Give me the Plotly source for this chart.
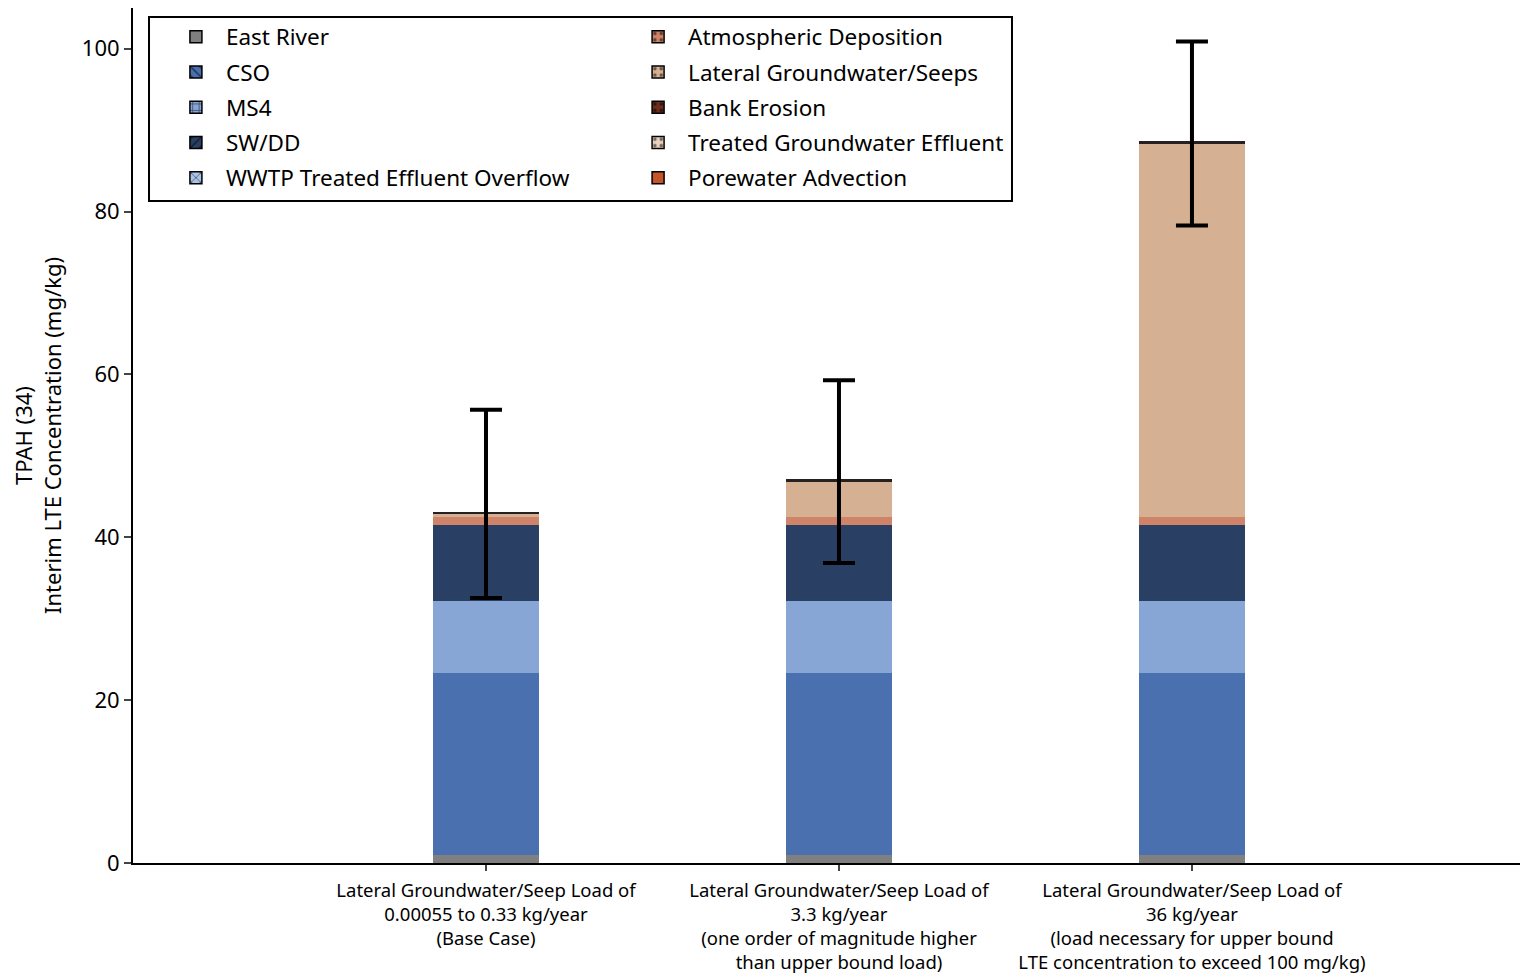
import plotly.graph_objects as go

categories = [
    "Lateral Groundwater/Seep Load of<br>0.00055 to 0.33 kg/year<br>(Base Case)",
    "Lateral Groundwater/Seep Load of<br>3.3 kg/year<br>(one order of magnitude higher<br>than upper bound load)",
    "Lateral Groundwater/Seep Load of<br>36 kg/year<br>(load necessary for upper bound<br>LTE concentration to exceed 100 mg/kg)",
]

sources = ["East River", "CSO", "MS4", "SW/DD", "WWTP Treated Effluent Overflow",
           "Atmospheric Deposition", "Lateral Groundwater/Seeps", "Bank Erosion",
           "Treated Groundwater Effluent", "Porewater Advection"]

east_river = [0.98, 0.98, 0.98]
cso = [22.36, 22.36, 22.36]
ms4 = [8.85, 8.85, 8.85]
sw_dd = [9.33, 9.33, 9.33]
wwtp = [0.0, 0.0, 0.0]
atmospheric = [0.92, 0.92, 0.92]
lateral_gw = [0.46, 4.45, 45.95]
bank_erosion = [0.22, 0.22, 0.22]
treated_gw = [0.0, 0.0, 0.0]
porewater = [0.0, 0.0, 0.0]

err_upper = [55.65, 59.3, 100.9]
err_lower = [32.55, 36.85, 78.3]

series = [east_river, cso, ms4, sw_dd, wwtp, atmospheric, lateral_gw, bank_erosion, treated_gw, porewater]
bar_colors = ["#808080", "#4a70b0", "#87a5d5", "#2a3f64", "#a9c2e6",
              "#cf8469", "#d6b092", "#262120", "#ead2c0", "#c4552b"]
legend_colors = ["#808080", "#4a70b0", "#87a5d5", "#2a3f64", "#a9c2e6",
                 "#cf8469", "#d6b092", "#6b2d1c", "#ead2c0", "#c4552b"]
patterns = ["", "\\", "+", "/", "x", ".", ".", ".", ".", ""]
legend_ids = ["legend", "legend", "legend", "legend", "legend",
              "legend2", "legend2", "legend2", "legend2", "legend2"]

fig = go.Figure()
for name, vals, col in zip(sources, series, bar_colors):
    fig.add_trace(go.Bar(x=categories, y=vals, name=name, marker_color=col,
                         marker_line_width=0, width=0.3, showlegend=False))

# legend swatches
for i, (name, col, pat, lg) in enumerate(zip(sources, legend_colors, patterns, legend_ids)):
    fig.add_trace(go.Bar(x=[None], y=[None], name=name, legend=lg, legendgroup=f"g{i}",
                         marker=dict(color=col, line=dict(color="black", width=1.5),
                                     pattern=dict(shape=pat, fgcolor="black", size=8, solidity=0.25)),
                         showlegend=True))

totals = [sum(s[i] for s in series) for i in range(len(categories))]
fig.add_trace(go.Scatter(
    x=categories, y=totals, mode="markers", marker=dict(size=0.1, color="black", opacity=0),
    showlegend=False,
    error_y=dict(type="data", symmetric=False,
                 array=[u - t for u, t in zip(err_upper, totals)],
                 arrayminus=[t - l for t, l in zip(totals, err_lower)],
                 color="black", thickness=4, width=16)))

font_family = "Noto Sans, Open Sans, sans-serif"
leg_common = dict(orientation="v", xanchor="left", yanchor="top",
                  bgcolor="rgba(0,0,0,0)", borderwidth=0, font=dict(size=22.5),
                  itemwidth=50, traceorder="grouped", tracegroupgap=3)
fig.update_layout(
    width=1520, height=967,
    margin=dict(l=125, r=0, t=0, b=112, autoexpand=False),
    paper_bgcolor="white", plot_bgcolor="white",
    barmode="stack",
    font=dict(family=font_family, color="black", size=19),
    xaxis=dict(range=[-1, 2.952], showline=True, linecolor="black", linewidth=2, mirror=True,
               ticks="outside", ticklen=6, tickwidth=1.5, tickfont=dict(size=18.5),
               ticklabelstandoff=4, showgrid=False, zeroline=False, automargin=False),
    yaxis=dict(range=[0, 105], showline=True, linecolor="black", linewidth=2, mirror=False,
               ticks="outside", ticklen=7, tickwidth=1.5, tickvals=[0, 20, 40, 60, 80, 100],
               tickfont=dict(size=22), showgrid=False, zeroline=False, automargin=False,
               title=dict(text="TPAH (34)<br>Interim LTE Concentration (mg/kg)",
                          font=dict(size=22), standoff=20)),
    legend=dict(x=0.0236, y=0.9912, **leg_common),
    legend2=dict(x=0.3549, y=0.9912, **leg_common),
    shapes=[dict(type="rect", xref="paper", yref="paper", x0=0.01147, x1=0.6301,
                 y0=0.7743, y1=0.98947, line=dict(color="black", width=2),
                 fillcolor="white", layer="above")],
)

fig.write_html("out.html")
